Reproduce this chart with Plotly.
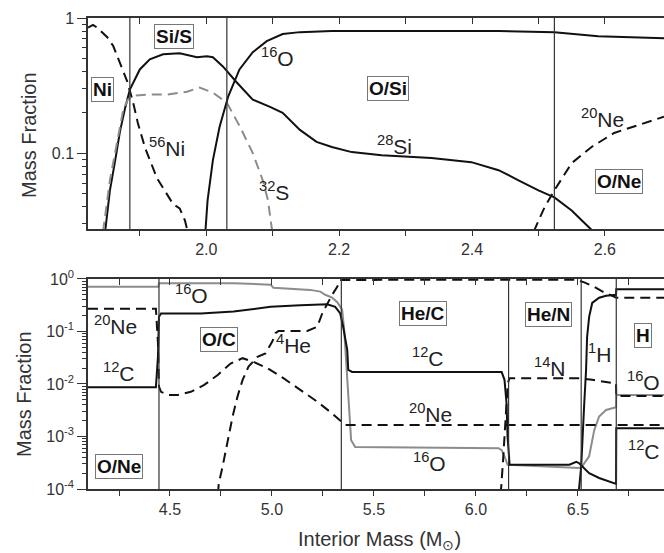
import plotly.graph_objects as go

# ---------------- data: top panel (Si/S, O/Si, O/Ne zones) ----------------
ni56_m = [1.822, 1.8295, 1.8355, 1.851, 1.860, 1.870, 1.881, 1.890, 1.897, 1.908, 1.926, 1.950, 1.960, 1.968, 1.971, 1.973]
ni56_v = [0.85, 0.89, 0.85, 0.72, 0.62, 0.47, 0.34, 0.236, 0.167, 0.109, 0.065, 0.042, 0.039, 0.0316, 0.0275, 0.02]

si28_m = [1.845, 1.848, 1.855, 1.863, 1.870, 1.878, 1.885, 1.900, 1.915, 1.935, 1.960, 1.986, 2.001, 2.010, 2.025,
          2.046, 2.070, 2.096, 2.115, 2.141, 2.166, 2.189, 2.219, 2.264, 2.339, 2.399, 2.440, 2.470, 2.500, 2.524,
          2.550, 2.580, 2.585]
si28_v = [0.02, 0.027, 0.053, 0.0887, 0.1435, 0.217, 0.295, 0.416, 0.494, 0.539, 0.548, 0.512, 0.520, 0.512, 0.438,
          0.333, 0.249, 0.220, 0.199, 0.1485, 0.121, 0.111, 0.1017, 0.0966, 0.0918, 0.0857, 0.0747, 0.0629, 0.053, 0.047,
          0.0376, 0.027, 0.024]

s32_m = [1.842, 1.845, 1.855, 1.866, 1.875, 1.882, 1.890, 1.911, 1.941, 1.971, 1.990, 2.010, 2.031, 2.051, 2.070,
         2.085, 2.093, 2.097, 2.099, 2.100]
s32_v = [0.02, 0.027, 0.063, 0.125, 0.209, 0.249, 0.266, 0.271, 0.271, 0.285, 0.306, 0.28, 0.236, 0.156, 0.100,
         0.063, 0.0446, 0.0316, 0.027, 0.02]

o16_top_m = [1.997, 1.999, 2.002, 2.010, 2.020, 2.033, 2.050, 2.070, 2.091, 2.115, 2.141, 2.189, 2.440, 2.524, 2.590, 2.689]
o16_top_v = [0.02, 0.027, 0.0446, 0.0887, 0.156, 0.262, 0.416, 0.558, 0.674, 0.76, 0.786, 0.80, 0.80, 0.786, 0.734, 0.709]

ne20_top_m = [2.490, 2.494, 2.509, 2.524, 2.550, 2.580, 2.614, 2.650, 2.689]
ne20_top_v = [0.02, 0.027, 0.0395, 0.053, 0.0842, 0.111, 0.141, 0.162, 0.186]

top_bounds = [1.885, 2.031, 2.524]

# ---------------- data: bottom panel (O/Ne, O/C, He/C, He/N, H zones) ----------------
o16_bot_m = [4.098, 4.443, 4.446, 4.812, 4.993, 5.007, 5.188, 5.237, 5.261, 5.295, 5.320, 5.334, 5.344, 5.354,
             5.364, 5.374, 5.388, 5.408, 6.111, 6.126, 6.140, 6.155, 6.506, 6.521, 6.555, 6.580, 6.604, 6.638,
             6.667, 6.687, 6.688, 6.922]
o16_bot_v = [0.71, 0.71, 0.83, 0.83, 0.78, 0.68, 0.62, 0.575, 0.50, 0.44, 0.36, 0.30, 0.26, 0.107, 0.029, 0.005,
             0.00085, 0.00063, 0.0006, 0.00055, 0.00042, 0.00029, 0.00025, 0.00027, 0.00042, 0.00132, 0.0024, 0.0032,
             0.0035, 0.0036, 0.0062, 0.0062]

c12_m = [4.098, 4.431, 4.441, 4.446, 4.456, 4.651, 4.812, 4.895, 4.993, 5.139, 5.271, 5.310, 5.334, 5.349, 5.369,
         5.374, 5.393, 6.111, 6.126, 6.140, 6.150, 6.155, 6.165, 6.458, 6.492, 6.506, 6.521, 6.555, 6.604, 6.687,
         6.688, 6.922]
c12_v = [0.0087, 0.0087, 0.033, 0.19, 0.22, 0.22, 0.24, 0.26, 0.295, 0.316, 0.33, 0.295, 0.224, 0.123, 0.0447,
         0.0186, 0.017, 0.017, 0.017, 0.012, 0.0043, 0.001, 0.00029, 0.00029, 0.00033, 0.00031, 0.00027, 0.0002,
         0.000162, 0.000125, 0.00144, 0.00144]

h1_m = [6.503, 6.506, 6.516, 6.531, 6.540, 6.545, 6.555, 6.570, 6.604, 6.638, 6.687, 6.688, 6.922]
h1_v = [0.00008, 0.00011, 0.00027, 0.0043, 0.0186, 0.079, 0.19, 0.35, 0.44, 0.48, 0.50, 0.64, 0.64]

he4_m = [4.735, 4.739, 4.758, 4.782, 4.807, 4.831, 4.856, 4.885, 4.929, 4.968, 5.002, 5.017, 5.032, 5.173, 5.222,
         5.247, 5.271, 5.295, 5.320, 5.334, 6.492, 6.531, 6.580, 6.619, 6.677, 6.688, 6.922]
he4_v = [0.00008, 0.000126, 0.00027, 0.00085, 0.0024, 0.0058, 0.012, 0.0214, 0.033, 0.038, 0.065, 0.093, 0.102,
         0.102, 0.123, 0.224, 0.347, 0.50, 0.71, 0.96, 0.97, 0.86, 0.71, 0.58, 0.46, 0.44, 0.44]

ne20_bot_m = [4.098, 4.431, 4.441, 4.446, 4.456, 4.490, 4.539, 4.602, 4.666, 4.734, 4.797, 4.856, 4.910, 4.978,
              5.056, 5.139, 5.222, 5.295, 5.320, 5.359, 6.922]
ne20_bot_v = [0.27, 0.27, 0.06, 0.0089, 0.0071, 0.0062, 0.0062, 0.0071, 0.0095, 0.0148, 0.0245, 0.031, 0.0263,
              0.020, 0.0129, 0.0078, 0.0046, 0.00275, 0.00224, 0.00166, 0.00166]

n14_m = [6.120, 6.124, 6.132, 6.140, 6.148, 6.156, 6.164, 6.506, 6.570, 6.677, 6.687, 6.688, 6.922]
n14_v = [0.00008, 0.00011, 0.00031, 0.001, 0.0032, 0.0102, 0.0128, 0.0128, 0.012, 0.0102, 0.0102, 0.0059, 0.0059]

bot_bounds = [4.446, 5.340, 6.160, 6.516, 6.688]

# ---------------- tick labels ----------------
top_xticks = [1.9, 2.0, 2.1, 2.2, 2.3, 2.4, 2.5, 2.6]
top_xlabels = ["", "2.0", "", "2.2", "", "2.4", "", "2.6"]
bot_xticks = [4.25, 4.5, 4.75, 5.0, 5.25, 5.5, 5.75, 6.0, 6.25, 6.5, 6.75]
bot_xlabels = ["", "4.5", "", "5.0", "", "5.5", "", "6.0", "", "6.5", ""]
top_yticks = [0.1, 1]
top_ylabels = ["0.1", "1"]
bot_yticks = [1e-4, 1e-3, 1e-2, 1e-1, 1]
bot_ylabels = ["10<sup>-4</sup>", "10<sup>-3</sup>", "10<sup>-2</sup>", "10<sup>-1</sup>", "10<sup>0</sup>"]

# ---------------- figure ----------------
BLACK = "#111111"
GRAY = "#8c8c8c"
DASH = "10px,6px"
FONT = "Liberation Sans, Arial, sans-serif"

fig = go.Figure()

def add(x, y, color, dash, xa, ya):
    fig.add_trace(go.Scatter(x=x, y=y, mode="lines", xaxis=xa, yaxis=ya,
                             line=dict(color=color, width=2, dash=dash),
                             showlegend=False, hoverinfo="skip"))

add(ni56_m, ni56_v, BLACK, DASH, "x", "y")
add(si28_m, si28_v, BLACK, "solid", "x", "y")
add(s32_m, s32_v, GRAY, DASH, "x", "y")
add(o16_top_m, o16_top_v, BLACK, "solid", "x", "y")
add(ne20_top_m, ne20_top_v, BLACK, DASH, "x", "y")

add(o16_bot_m, o16_bot_v, GRAY, "solid", "x2", "y2")
add(ne20_bot_m, ne20_bot_v, BLACK, DASH, "x2", "y2")
add(he4_m, he4_v, BLACK, DASH, "x2", "y2")
add(n14_m, n14_v, BLACK, DASH, "x2", "y2")
add(c12_m, c12_v, BLACK, "solid", "x2", "y2")
add(h1_m, h1_v, BLACK, "solid", "x2", "y2")

# invisible traces so the top-border overlay axes are drawn
fig.add_trace(go.Scatter(x=[2.0], y=[None], xaxis="x3", yaxis="y", showlegend=False, hoverinfo="skip"))
fig.add_trace(go.Scatter(x=[5.0], y=[None], xaxis="x4", yaxis="y2", showlegend=False, hoverinfo="skip"))

for b in top_bounds:
    fig.add_shape(type="line", xref="x", yref="y domain", x0=b, x1=b, y0=0, y1=1,
                  line=dict(color="#333333", width=1.2))
for b in bot_bounds:
    fig.add_shape(type="line", xref="x2", yref="y2 domain", x0=b, x1=b, y0=0, y1=1,
                  line=dict(color="#333333", width=1.2))

tickfont = dict(family=FONT, size=16, color="#333333")
axline = dict(showline=True, linecolor="#333333", linewidth=1.5, showgrid=False, zeroline=False)

TOP_DOM = [0.5514, 1.0]
BOT_DOM = [0.0, 0.4459]
XR_TOP = [1.822, 2.689]
XR_BOT = [4.098, 6.922]

fig.update_layout(
    width=664, height=553,
    margin=dict(l=88, r=0, t=18, b=64),
    paper_bgcolor="white", plot_bgcolor="white",
    font=dict(family=FONT, color="#222222"),
    xaxis=dict(domain=[0, 1], anchor="y", range=XR_TOP, tickmode="array", tickvals=top_xticks,
               ticktext=top_xlabels, ticks="outside", ticklen=5, tickcolor="#333333", tickfont=tickfont, **axline),
    yaxis=dict(domain=TOP_DOM, anchor="x", type="log", range=[-1.564, 0], tickmode="array",
               tickvals=top_yticks, ticktext=top_ylabels, ticks="outside", ticklen=9, tickcolor="#333333",
               tickfont=tickfont,
               minor=dict(tickmode="array", tickvals=[0.03, 0.04, 0.05, 0.06, 0.07, 0.08, 0.09,
                                                      0.2, 0.3, 0.4, 0.5, 0.6, 0.7, 0.8, 0.9],
                          ticks="outside", ticklen=4, tickcolor="#333333"),
               **axline),
    xaxis3=dict(overlaying="x", side="top", anchor="y", range=XR_TOP, tickmode="array", tickvals=top_xticks,
                showticklabels=False, ticks="inside", ticklen=6, tickcolor="#333333", **axline),
    xaxis2=dict(domain=[0, 1], anchor="y2", range=XR_BOT, tickmode="array", tickvals=bot_xticks,
                ticktext=bot_xlabels, ticks="outside", ticklen=5, tickcolor="#333333", tickfont=tickfont, **axline),
    yaxis2=dict(domain=BOT_DOM, anchor="x2", type="log", range=[-4, 0], tickmode="array",
                tickvals=bot_yticks, ticktext=bot_ylabels, ticks="outside", ticklen=9, tickcolor="#333333",
                tickfont=tickfont,
                minor=dict(tickmode="array",
                           tickvals=[m * 10 ** e for e in (-4, -3, -2, -1) for m in range(2, 10)],
                           ticks="outside", ticklen=4, tickcolor="#333333"),
                **axline),
    xaxis4=dict(overlaying="x2", side="top", anchor="y2", range=XR_BOT, tickmode="array", tickvals=bot_xticks,
                showticklabels=False, ticks="inside", ticklen=6, tickcolor="#333333", **axline),
)

# species / zone labels: (text, mass, log10(mass fraction), boxed)
top_labels = [
    ("Ni", 1.844, -0.530, True),
    ("Si/S", 1.951, -0.138, True),
    ("<sup>16</sup>O", 2.107, -0.291, False),
    ("<sup>56</sup>Ni", 1.941, -0.955, False),
    ("<sup>32</sup>S", 2.102, -1.284, False),
    ("O/Si", 2.274, -0.522, True),
    ("<sup>28</sup>Si", 2.283, -0.937, False),
    ("<sup>20</sup>Ne", 2.597, -0.739, False),
    ("O/Ne", 2.621, -1.209, True),
]
bot_labels = [
    ("<sup>16</sup>O", 4.603, -0.286, False),
    ("<sup>20</sup>Ne", 4.233, -0.876, False),
    ("<sup>12</sup>C", 4.248, -1.781, False),
    ("O/C", 4.740, -1.162, True),
    ("<sup>4</sup>He", 5.105, -1.238, False),
    ("O/Ne", 4.252, -3.562, True),
    ("He/C", 5.740, -0.657, True),
    ("<sup>12</sup>C", 5.765, -1.495, False),
    ("<sup>20</sup>Ne", 5.777, -2.543, False),
    ("<sup>16</sup>O", 5.772, -3.495, False),
    ("He/N", 6.358, -0.667, True),
    ("<sup>14</sup>N", 6.363, -1.667, False),
    ("<sup>1</sup>H", 6.608, -1.41, False),
    ("H", 6.821, -1.067, True),
    ("<sup>16</sup>O", 6.821, -1.943, False),
    ("<sup>12</sup>C", 6.824, -3.257, False),
]

def label(text, x, y, boxed, xr, yr):
    if boxed:
        fig.add_annotation(text="<b>%s</b>" % text, x=x, y=y, xref=xr, yref=yr, showarrow=False,
                           xanchor="center", yanchor="middle",
                           font=dict(family=FONT, size=19, color="#111111"),
                           bordercolor="#777777", borderwidth=1, borderpad=1, bgcolor="white")
    else:
        fig.add_annotation(text=text, x=x, y=y, xref=xr, yref=yr, showarrow=False,
                           xanchor="center", yanchor="middle",
                           font=dict(family=FONT, size=21, color="#222222"))

for t, x, y, b in top_labels:
    label(t, x, y, b, "x", "y")
for t, x, y, b in bot_labels:
    label(t, x, y, b, "x2", "y2")

title_font = dict(family=FONT, size=20, color="#333333")
fig.add_annotation(text="Mass Fraction", textangle=-90, xref="paper", yref="paper",
                   x=(29 - 88) / 576, y=0.7516, xanchor="center", yanchor="middle",
                   showarrow=False, font=title_font)
fig.add_annotation(text="Mass Fraction", textangle=-90, xref="paper", yref="paper",
                   x=(24 - 88) / 576, y=0.2017, xanchor="center", yanchor="middle",
                   showarrow=False, font=title_font)
fig.add_annotation(text="Interior Mass (M<sub>⊙</sub>)", xref="paper", yref="paper",
                   x=(379 - 88) / 576, y=-0.1083, xanchor="center", yanchor="middle",
                   showarrow=False, font=title_font)

fig.write_html("out.html")
